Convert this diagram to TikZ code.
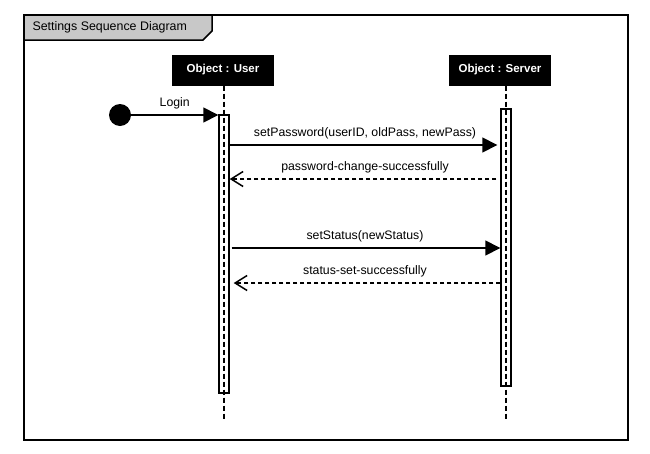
\documentclass[tikz,border=0pt]{standalone}
\usepackage{fontspec}
\setmainfont{Liberation Sans}
\usepackage{xcolor}
\usetikzlibrary{arrows.meta}

\definecolor{tabgray}{RGB}{200,200,200}

\tikzset{
  obj/.style={fill=black, text=white, font=\fontsize{11.5}{13}\selectfont\bfseries, minimum width=102pt, minimum height=31pt, inner sep=0pt},
  life/.style={line width=1.6pt, dash pattern=on 5pt off 3pt},
  bar/.style={draw, line width=1.4pt, minimum width=10pt, inner sep=0pt},
  call/.style={line width=1.5pt, -{Triangle[length=15pt,width=15pt]}},
  reply/.style={line width=1.5pt, dash pattern=on 4pt off 3pt, -{Straight Barb[length=12pt,width=15pt,line width=1.5pt]}},
  lbl/.style={font=\fontsize{12.3}{14}\selectfont, above=1.5pt}
}

\begin{document}
\begin{tikzpicture}[x=1pt,y=-1pt]
\useasboundingbox (0,0) rectangle (650,453);

% frame and title tab
\draw[line width=2pt] (24,15) rectangle (628,440);
\draw[line width=1.5pt, fill=tabgray] (24,15)--(212,15)--(212,31)--(203,40)--(24,40)--cycle;
\node[anchor=west, font=\fontsize{12.4}{14}\selectfont] (title) at (29,27.5) {Settings Sequence Diagram};

% objects
\node[obj] (user) at (223,70) {Object : User};
\node[obj] (server) at (500,70) {Object : Server};

% lifelines
\coordinate (userend) at (224,420);
\coordinate (serverend) at (506,420);
\draw[life] (user.south -| userend) -- (userend);
\draw[life] (server.south -| serverend) -- (serverend);

% activations
\node[bar, minimum height=278pt] (userbar) at (224,254) {};
\node[bar, minimum height=277pt] (serverbar) at (506,247.5) {};

% start
\node[circle, fill=black, minimum size=22pt, inner sep=0pt] (start) at (120,115) {};
\draw[call] (start) -- node[lbl] {Login} (start -| userbar.west);

% messages
\draw[call, shorten >=3pt] (userbar.east |- 0,145) -- node[lbl] {setPassword(userID, oldPass, newPass)} (serverbar.west |- 0,145);
\draw[reply, shorten <=4pt] (serverbar.west |- 0,179) -- node[lbl] {password-change-successfully} (userbar.east |- 0,179);

\draw[call, shorten <=2pt] (userbar.east |- 0,248) -- node[lbl] {setStatus(newStatus)} (serverbar.west |- 0,248);
\draw[reply, shorten >=4pt] (serverbar.west |- 0,283) -- node[lbl] {status-set-successfully} (userbar.east |- 0,283);

\end{tikzpicture}
\end{document}
